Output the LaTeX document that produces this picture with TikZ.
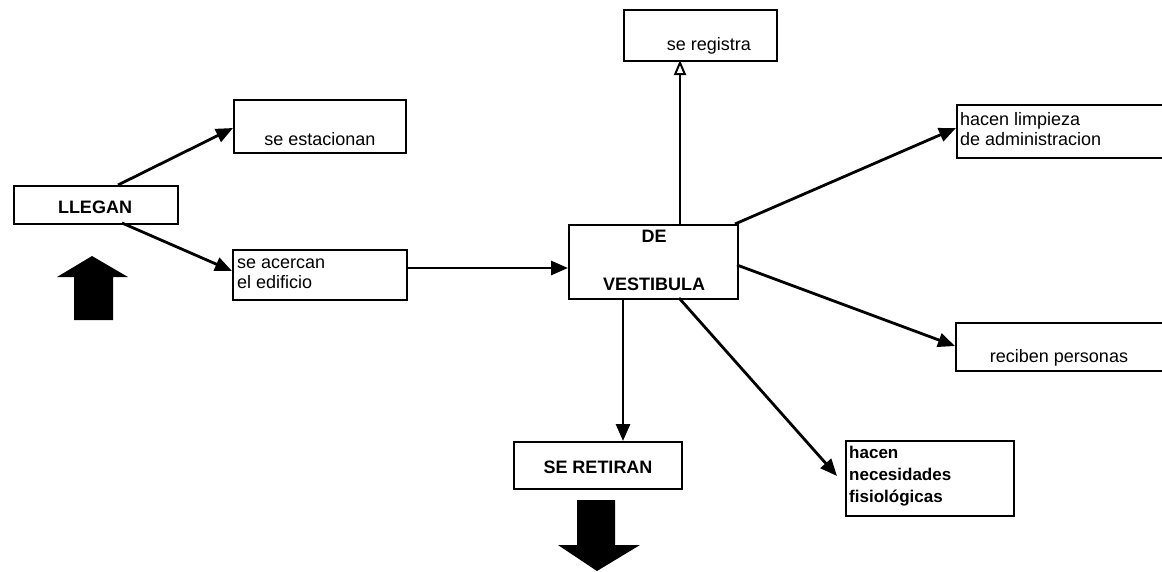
\documentclass[tikz,border=0pt]{standalone}
\usepackage{fontspec}
\setmainfont{Liberation Sans}
\usetikzlibrary{arrows.meta}
\begin{document}
\begin{tikzpicture}[x=1pt,y=-1pt,
  box/.style={draw,line width=2.4pt,inner sep=0pt,anchor=north west},
  lbl/.style={inner sep=0pt,anchor=base,font=\fontsize{18}{20}\selectfont},
  caplbl/.style={inner sep=0pt,anchor=base,font=\fontsize{18}{20}\selectfont\bfseries},
  ln/.style={inner sep=0pt,anchor=base west,font=\fontsize{18}{20}\selectfont},
  conn/.style={line width=2.8pt,-{Triangle[length=17pt,width=14pt]}}]
\useasboundingbox (0,0) rectangle (1162,571);
% boxes
\node[box,minimum width=164pt,minimum height=38pt] (llegan) at (13,185) {};
\node[caplbl] (tllegan) at (95,213) {LLEGAN};
\node[box,minimum width=172pt,minimum height=53pt] (estac) at (233,99) {};
\node[lbl] (testac) at (320,145) {se estacionan};
\node[box,minimum width=174pt,minimum height=50pt] (acerc) at (232,249) {};
\node[ln] (tacerc1) at (237,268) {se acercan};
\node[ln] (tacerc2) at (237,288) {el edificio};
\node[box,minimum width=169pt,minimum height=74pt] (vest) at (568,224) {};
\node[caplbl] (tde) at (654,242) {DE};
\node[caplbl] (tvest) at (654,290) {VESTIBULA};
\node[box,minimum width=153pt,minimum height=51pt] (regis) at (623,9) {};
\node[lbl] (tregis) at (709,50) {se registra};
\node[box,minimum width=210pt,minimum height=53pt] (limp) at (956,104) {};
\node[ln] (tlimp1) at (960,125) {hacen limpieza};
\node[ln] (tlimp2) at (960,145) {de administracion};
\node[box,minimum width=210pt,minimum height=48pt] (recib) at (955,322) {};
\node[lbl] (trecib) at (1059,362) {reciben personas};
\node[box,minimum width=168pt,minimum height=75pt] (neces) at (845,440) {};
\node[ln,font=\fontsize{17}{20}\selectfont\bfseries] (tneces1) at (849,458) {hacen};
\node[ln,font=\fontsize{17}{20}\selectfont\bfseries] (tneces2) at (849,480) {necesidades};
\node[ln,font=\fontsize{17}{20}\selectfont\bfseries] (tneces3) at (849,502) {fisiológicas};
\node[box,minimum width=168pt,minimum height=47pt] (retir) at (513,441) {};
\node[caplbl] (tretir) at (598,473) {SE RETIRAN};
% connectors
\coordinate (l1) at (118,185);
\coordinate (l2) at (122,223);
\draw[conn] (l1) -- (233,128);
\draw[conn] (l2) -- (232,271);
\draw[conn] (acerc.east |- 0,268) -- (568,268);
\draw[line width=2pt,-{Triangle[open,length=15pt,width=12pt,line width=2pt]}] (680,224) -- (680,60);
\draw[conn] (735,224) -- (956,128);
\draw[conn] (737,265) -- (955,346);
\draw[conn] (679,298) -- (837,476);
\draw[conn] (623,298) -- (623,441);
% big arrows
\fill (74,320) -- (74,277) -- (57,277) -- (92,256) -- (128,277) -- (113,277) -- (113,320) -- cycle;
\fill (577,500) -- (615,500) -- (615,545) -- (640,545) -- (597,571) -- (558,545) -- (577,545) -- cycle;
\end{tikzpicture}
\end{document}
